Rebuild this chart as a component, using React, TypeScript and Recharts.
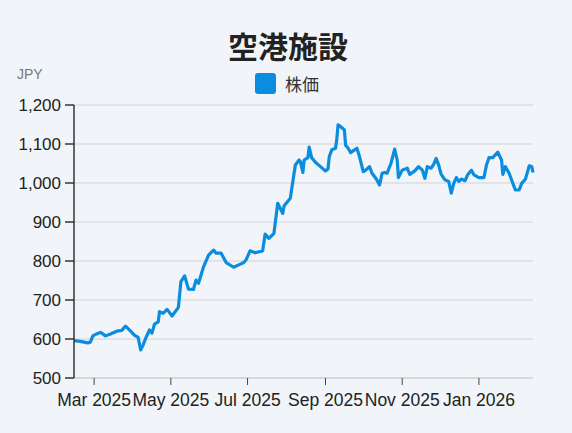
import { LineChart, Line, XAxis, YAxis, CartesianGrid } from 'recharts';

const dates = [
  '2025-02-13', '2025-02-18', '2025-02-24', '2025-02-26', '2025-02-28', '2025-03-03', '2025-03-06', '2025-03-08',
  '2025-03-10', '2025-03-14', '2025-03-19', '2025-03-23', '2025-03-26', '2025-03-30', '2025-04-02', '2025-04-05',
  '2025-04-07', '2025-04-09', '2025-04-11', '2025-04-14', '2025-04-16', '2025-04-18', '2025-04-21', '2025-04-22',
  '2025-04-25', '2025-04-28', '2025-05-02', '2025-05-07', '2025-05-09', '2025-05-12', '2025-05-15', '2025-05-19',
  '2025-05-21', '2025-05-23', '2025-05-27', '2025-05-31', '2025-06-04', '2025-06-06', '2025-06-10', '2025-06-14',
  '2025-06-20', '2025-06-24', '2025-06-28', '2025-06-30', '2025-07-03', '2025-07-07', '2025-07-13', '2025-07-15',
  '2025-07-18', '2025-07-22', '2025-07-25', '2025-07-29', '2025-07-30', '2025-08-04', '2025-08-08', '2025-08-11',
  '2025-08-12', '2025-08-14', '2025-08-15', '2025-08-18', '2025-08-19', '2025-08-21', '2025-08-24', '2025-08-28',
  '2025-09-01', '2025-09-03', '2025-09-04', '2025-09-06', '2025-09-09', '2025-09-10', '2025-09-11', '2025-09-14',
  '2025-09-16', '2025-09-17', '2025-09-19', '2025-09-21', '2025-09-24', '2025-09-26', '2025-09-28', '2025-10-01',
  '2025-10-03', '2025-10-06', '2025-10-08', '2025-10-11', '2025-10-14', '2025-10-16', '2025-10-18', '2025-10-20',
  '2025-10-23', '2025-10-26', '2025-10-28', '2025-10-29', '2025-11-01', '2025-11-05', '2025-11-07', '2025-11-11',
  '2025-11-14', '2025-11-17', '2025-11-19', '2025-11-21', '2025-11-24', '2025-11-26', '2025-11-28', '2025-11-30',
  '2025-12-02', '2025-12-05', '2025-12-08', '2025-12-10', '2025-12-12', '2025-12-14', '2025-12-16', '2025-12-18',
  '2025-12-21', '2025-12-23', '2025-12-26', '2025-12-28', '2026-01-01', '2026-01-05', '2026-01-07', '2026-01-09',
  '2026-01-12', '2026-01-16', '2026-01-19', '2026-01-20', '2026-01-22', '2026-01-25', '2026-01-28', '2026-01-30',
  '2026-02-02', '2026-02-04', '2026-02-07', '2026-02-10', '2026-02-12', '2026-02-13',
];

const prices = [
  596, 594, 590, 592, 608, 613, 617, 613,
  608, 613, 620, 622, 633, 620, 610, 604,
  572, 585, 602, 623, 615, 638, 644, 670,
  666, 676, 659, 681, 747, 762, 728, 727,
  751, 743, 785, 815, 828, 820, 820, 796,
  784, 790, 796, 804, 826, 821, 826, 869,
  858, 871, 948, 922, 941, 961, 1046, 1059,
  1055, 1027, 1059, 1065, 1092, 1065, 1053, 1042,
  1031, 1036, 1068, 1085, 1089, 1113, 1149, 1142,
  1136, 1097, 1089, 1078, 1085, 1089, 1068, 1029,
  1033, 1042, 1025, 1012, 995, 1025, 1027, 1025,
  1050, 1087, 1059, 1014, 1033, 1038, 1022, 1031,
  1042, 1033, 1012, 1042, 1038, 1048, 1063, 1046,
  1022, 1008, 1004, 974, 999, 1014, 1004, 1010,
  1006, 1021, 1033, 1021, 1014, 1014, 1046, 1065,
  1065, 1079, 1059, 1022, 1042, 1025, 999, 982,
  982, 999, 1010, 1044, 1042, 1027,
];

const tickDates = ['2025-03-01', '2025-05-01', '2025-07-01', '2025-09-01', '2025-11-01', '2026-01-01'];
const tickLabels = ['Mar 2025', 'May 2025', 'Jul 2025', 'Sep 2025', 'Nov 2025', 'Jan 2026'];
const yTicks = [500, 600, 700, 800, 900, 1000, 1100, 1200];

const toTime = (s: string) => new Date(s + 'T00:00:00Z').getTime();

const data = dates.map((d, i) => ({ t: toTime(d), price: prices[i] }));
const xTicks = tickDates.map(toTime);

const FONT = '"Liberation Sans", Arial, "Noto Sans CJK JP", sans-serif';
const LINE_COLOR = '#0a8ddf';

export default function App() {
  return (
    <div style={{ position: 'fixed', left: 0, top: 0, width: 572, height: 433, background: '#f1f5f9', fontFamily: FONT }}>
      <div style={{ position: 'absolute', left: 2, top: 29, width: 572, textAlign: 'center', fontSize: 30, lineHeight: '32px', fontWeight: 700, color: '#222', fontFamily: '"Noto Sans CJK JP", sans-serif' }}>
        空港施設
      </div>
      <div style={{ position: 'absolute', left: 255, top: 71, display: 'flex', alignItems: 'center', gap: 9 }}>
        <span style={{ width: 21, height: 21, borderRadius: 3, background: LINE_COLOR, display: 'inline-block' }} />
        <span style={{ fontSize: 17, color: '#333', fontFamily: '"Noto Sans CJK JP", sans-serif' }}>株価</span>
      </div>
      <div style={{ position: 'absolute', left: 17, top: 66, fontSize: 14, color: '#777' }}>JPY</div>
      <LineChart width={572} height={433} data={data} margin={{ top: 105, right: 39, bottom: 25, left: 0 }} style={{ position: 'absolute', left: 0, top: 0 }}>
        <CartesianGrid vertical={false} stroke="#dcdcdc" strokeWidth={1.5} />
        <XAxis
          dataKey="t"
          type="number"
          scale="time"
          height={30}
          domain={[data[0].t, data[data.length - 1].t]}
          ticks={xTicks}
          interval={0}
          tickFormatter={(v: number) => tickLabels[xTicks.indexOf(v)] ?? ''}
          axisLine={{ stroke: '#d8d8d8', strokeWidth: 2 }}
          tickLine={{ stroke: '#444' }}
          tickSize={7}
          tickMargin={9}
          tick={{ fill: '#222', fontSize: 17.5, fontFamily: FONT }}
        />
        <YAxis
          width={74}
          domain={[500, 1200]}
          ticks={yTicks}
          interval={0}
          tickFormatter={(v: number) => v.toLocaleString('en-US')}
          axisLine={{ stroke: '#333', strokeWidth: 1.5 }}
          tickLine={{ stroke: '#333', strokeWidth: 1.5 }}
          tickSize={9}
          tickMargin={4}
          tick={{ fill: '#222', fontSize: 17, fontFamily: FONT }}
        />
        <Line
          type="linear"
          dataKey="price"
          stroke={LINE_COLOR}
          strokeWidth={3.2}
          dot={false}
          strokeLinejoin="round"
          isAnimationActive={false}
        />
      </LineChart>
    </div>
  );
}
